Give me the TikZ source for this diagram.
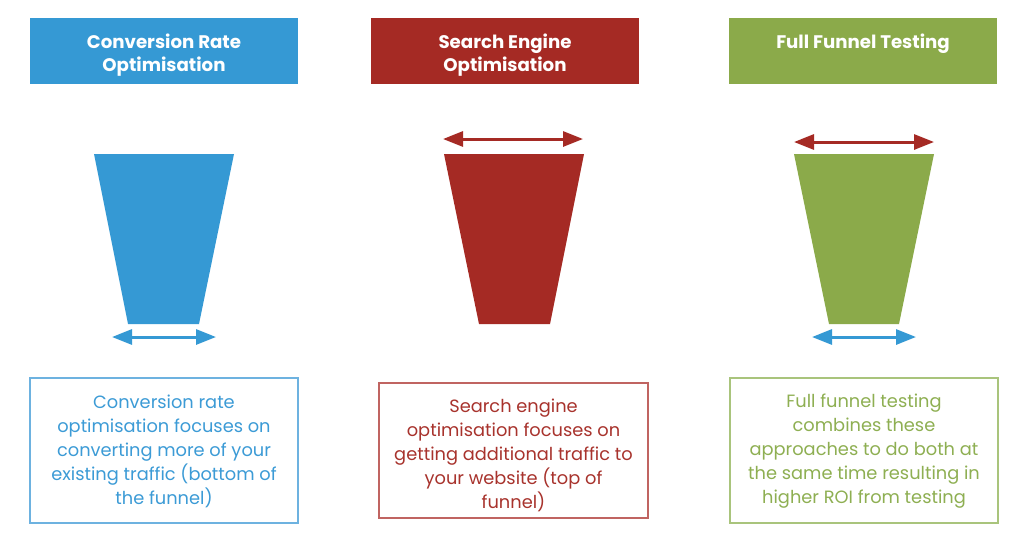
\documentclass[tikz,border=0pt]{standalone}
\usepackage{fontspec}
\setmainfont{Poppins}
\usetikzlibrary{arrows.meta}
\definecolor{cblue}{HTML}{3599D4}
\definecolor{cred}{HTML}{A52A24}
\definecolor{cgreen}{HTML}{8BAA4A}
\definecolor{bblue}{HTML}{6DB2E0}
\definecolor{bred}{HTML}{C06461}
\definecolor{bgreen}{HTML}{A9C47C}
\definecolor{tblue}{HTML}{3C9BD6}
\definecolor{tred}{HTML}{A8332D}
\definecolor{tgreen}{HTML}{8EAF52}
\tikzset{
  header/.style={minimum width=268pt, minimum height=66pt, inner sep=0pt, text=white,
    font=\fontsize{18.2}{23}\selectfont\bfseries, align=center},
  descbox/.style={draw, line width=1.2pt, inner sep=0pt},
  desctext/.style={align=center, font=\fontsize{17.8}{24}\selectfont},
  width arrow/.style={line width=3pt, {Triangle[length=20pt,width=15pt]}-{Triangle[length=20pt,width=15pt]}}
}
\begin{document}
\begin{tikzpicture}[x=1pt,y=-1pt]
\useasboundingbox (0,0) rectangle (1024,558);
\fill[white] (0,0) rectangle (1024,558);
% headers
\node[header, fill=cblue] (h1) at (164,51) {};
\node[header, fill=cred] (h2) at (505,51) {};
\node[header, fill=cgreen] (h3) at (863,51) {};
\node[header, minimum width=0pt, minimum height=0pt] (l1) at (164,55) {Conversion Rate\\Optimisation};
\node[header, minimum width=0pt, minimum height=0pt] (l2) at (505,55) {Search Engine\\Optimisation};
\node[header, minimum width=0pt, minimum height=0pt] (l3) at (863,43.5) {Full Funnel Testing};
% funnels
\fill[cblue] (94,154) -- (234,154) -- (199,324) -- (128,324) -- cycle;
\fill[cred] (444,154) -- (584,154) -- (550,324) -- (479,324) -- cycle;
\fill[cgreen] (794,154) -- (934,154) -- (899,324) -- (829,324) -- cycle;
% arrow end points
\coordinate (a1l) at (112,337); \coordinate (a1r) at (216,337);
\coordinate (a2l) at (443,139); \coordinate (a2r) at (583,139);
\coordinate (a3l) at (794,142); \coordinate (a3r) at (934,142);
\coordinate (a4l) at (812,337); \coordinate (a4r) at (916,337);
\draw[width arrow, cblue] (a1l) -- (a1r);
\draw[width arrow, cred] (a2l) -- (a2r);
\draw[width arrow, cred] (a3l) -- (a3r);
\draw[width arrow, cblue] (a4l) -- (a4r);
% description boxes
\node[descbox, draw=bblue, minimum width=268pt, minimum height=145pt] (b1) at (164,450.5) {};
\node[descbox, draw=bred, minimum width=269pt, minimum height=135pt] (b2) at (513.5,450.5) {};
\node[descbox, draw=bgreen, minimum width=268pt, minimum height=145pt] (b3) at (864,450.5) {};
\node[desctext, text=tblue] (t1) at (164,451) {Conversion rate\\optimisation focuses on\\converting more of your\\existing traffic (bottom of\\the funnel)};
\node[desctext, text=tred] (t2) at (513.5,455) {Search engine\\optimisation focuses on\\getting additional traffic to\\your website (top of\\funnel)};
\node[desctext, text=tgreen] (t3) at (864,451) {Full funnel testing\\combines these\\approaches to do both at\\the same time resulting in\\higher ROI from testing};
\end{tikzpicture}
\end{document}
